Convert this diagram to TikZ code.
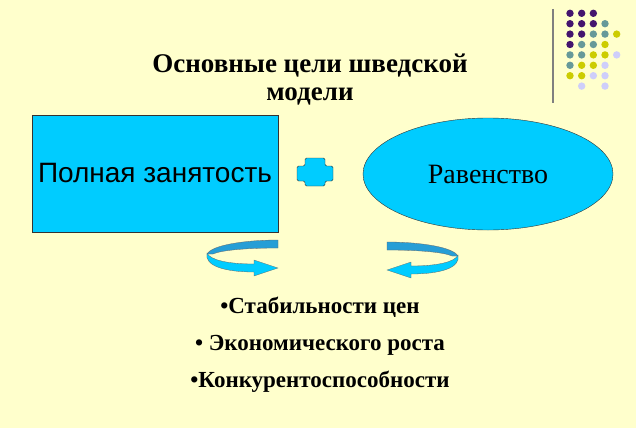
\documentclass[tikz,border=0pt]{standalone}
\usepackage{fontspec}
\setmainfont{Liberation Serif}
\newfontfamily\arialfont{Liberation Sans}
\usetikzlibrary{shapes.geometric, positioning}
\definecolor{slidebg}{RGB}{255, 255, 204}
\definecolor{goalcyan}{RGB}{0, 204, 255}
\definecolor{ribbonblue}{RGB}{38, 158, 214}
\definecolor{dotpurple}{RGB}{68, 20, 110}
\definecolor{dotteal}{RGB}{102, 153, 153}
\definecolor{dotyellow}{RGB}{204, 204, 0}
\definecolor{dotlilac}{RGB}{206, 206, 250}

\begin{document}
\begin{tikzpicture}[
  x=1pt, y=-1pt,
  goal/.style={draw=black!80, fill=goalcyan, inner sep=0pt, text=black},
  title/.style={font=\bfseries\fontsize{27}{28}\selectfont, align=center},
  item/.style={font=\bfseries\fontsize{23}{26}\selectfont},
  gridball/.style={circle, inner sep=0pt, minimum size=7.4pt},
  twist/.pic={
    % back of the ribbon
    \filldraw[fill=ribbonblue, draw=black!60, line width=0.3pt]
      (36,-18) .. controls (3,-18) and (-30,-13) .. (-35,-4)
      -- (-29,-4) .. controls (-20,-8) and (6,-10) .. (36,-10) -- cycle;
    % front with head
    \filldraw[fill=goalcyan, draw=black!60, line width=0.3pt]
      (-35,-5) .. controls (-32,2) and (-14,6) .. (12,6)
      -- (12,2) -- (36,10) -- (12,18) -- (12,14)
      .. controls (-17,14) and (-38,8) .. (-35,-5) -- cycle;
  }
]
\fill[slidebg] (0,0) rectangle (636,428);
\useasboundingbox (0,0) rectangle (636,428);

% Corner decoration
\draw[gray, line width=1.8pt] (553,9) -- (553,103);
\foreach \c/\r/\col in {0/0/dotpurple, 1/0/dotpurple, 2/0/dotpurple,
    0/1/dotpurple, 1/1/dotpurple, 2/1/dotpurple, 3/1/dotteal,
    0/2/dotpurple, 1/2/dotpurple, 2/2/dotteal, 3/2/dotteal, 4/2/dotyellow,
    0/3/dotpurple, 1/3/dotteal, 2/3/dotteal, 3/3/dotyellow,
    0/4/dotteal, 1/4/dotteal, 2/4/dotyellow, 3/4/dotyellow, 4/4/dotlilac,
    0/5/dotteal, 1/5/dotyellow, 2/5/dotyellow, 3/5/dotlilac,
    0/6/dotyellow, 1/6/dotyellow, 2/6/dotlilac, 3/6/dotlilac,
    1/7/dotlilac, 3/7/dotlilac}
  \node[gridball, fill=\col] (d\c\r) at ({570+11.67*\c}, {13.3+10.4*\r}) {};

% Title
\node[title] (head) at (310,80) {Основные цели шведской\\модели};

% Goals
\node[goal, rectangle, minimum width=246pt, minimum height=117pt,
  font=\arialfont\fontsize{28}{30}\selectfont] (emp) at (155,173.5) {Полная занятость};
\node[goal, ellipse, minimum width=250pt, minimum height=112pt,
  font=\fontsize{28}{30}\selectfont] (eq) at (488,174) {Равенство};

% Plus sign
\filldraw[fill=goalcyan, draw=black!80, rounded corners=1.5pt]
  (305,158) -- (325,158) -- (325,166) -- (333,166) -- (333,181) -- (325,181)
  -- (325,186) -- (305,186) -- (305,181) -- (297,181) -- (297,166) -- (305,166) -- cycle;

% Turning arrows
\pic at (242,258) {twist};
\begin{scope}[shift={(423,260)}]
  \pic[x=-1pt] {twist};
\end{scope}

% Results
\node[item] (price) at (320,307) {•Стабильности цен};
\node[item] (growth) at (320,345) {• Экономического роста};
\node[item] (compet) at (320,382) {•Конкурентоспособности};

\end{tikzpicture}
\end{document}
